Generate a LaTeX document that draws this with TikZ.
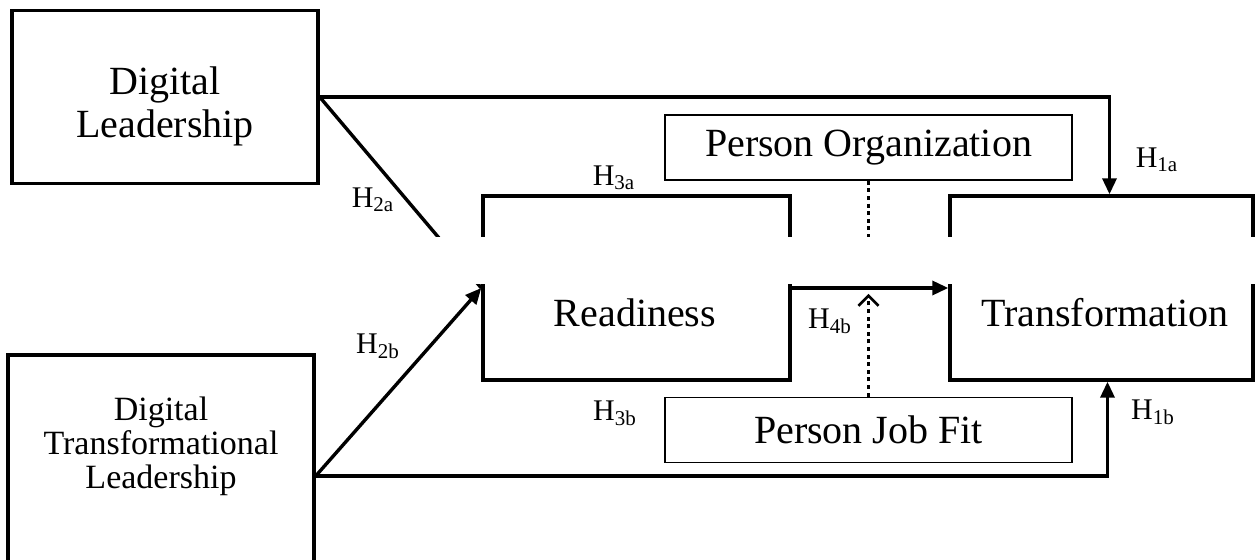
\documentclass[tikz,border=0pt]{standalone}
\usepackage{fontspec}
\setmainfont{Liberation Serif}
\usetikzlibrary{arrows.meta,positioning}
\tikzset{
  modelBox/.style={
    draw,
    line width=1.7pt,
    inner sep=0pt,
    align=center
  },
  moderatorBox/.style={
    draw,
    line width=0.9pt,
    inner sep=0pt,
    minimum width=203.5pt,
    minimum height=32.5pt,
    font=\fontsize{20}{22}\selectfont
  },
  boxText/.style={align=center, inner sep=0pt},
  pathArrow/.style={line width=1.7pt, -{Triangle[length=8pt,width=7pt]}},
  pathLine/.style={line width=1.7pt},
  moderatorLine/.style={line width=1.3pt, dash pattern=on 2pt off 1.8pt},
  moderatorArrow/.style={moderatorLine, -{Straight Barb[length=5pt,width=10pt]}},
  hypLabel/.style={font=\fontsize{15}{16}\selectfont, inner sep=0pt},
  cutBand/.style={fill=white, draw=none}
}

\begin{document}
\begin{tikzpicture}[x=0.5pt,y=-0.5pt]
  \clip (0,0) rectangle (1255,560);

  \node[modelBox, minimum width=153pt, minimum height=86.5pt]
    (dl) at (165,97) {};
  \node[boxText, font=\fontsize{20}{21.5}\selectfont]
    (dltext) at (165,106) {Digital\\Leadership};
  \node[modelBox, minimum width=153pt, minimum height=121pt]
    (dtl) at (161,476) {};
  \node[boxText, font=\fontsize{17}{17}\selectfont]
    (dtltext) at (161,446) {Digital\\Transformational\\Leadership};
  \node[modelBox, minimum width=153.5pt, minimum height=92pt]
    (rdy) at (636.5,288) {};
  \node[boxText, font=\fontsize{20}{22}\selectfont]
    (rdytext) at (635,313) {Readiness};
  \node[modelBox, minimum width=151.5pt, minimum height=92pt]
    (trf) at (1101.5,288) {};
  \node[boxText, font=\fontsize{20}{22}\selectfont]
    (trftext) at (1105,313) {Transformation};
  \node[moderatorBox] (po) at (868.5,147.5) {Person Organization};
  \node[moderatorBox] (pjf) at (868.5,430) {Person Job Fit};

  \draw[pathLine] (dl.east) -- (rdy.west);
  \draw[moderatorLine] (po.south) -- (po.south |- rdy.east);

  \fill[cutBand] (0,237) rectangle (1255,284);

  \draw[pathArrow] (dl.east) -| ([xshift=4pt]trf.north);
  \draw[pathArrow] (dtl.east) -| ([xshift=3pt]trf.south);
  \draw[pathArrow] (dtl.east) -- (rdy.west);
  \draw[pathArrow] (rdy.east) -- (trf.west);
  \draw[moderatorArrow] (pjf.north) -- ([yshift=-3pt]pjf.north |- rdy.east);

  \node[hypLabel] (h1a) at (1157,160) {H\textsubscript{1a}};
  \node[hypLabel] (h1b) at (1153,412) {H\textsubscript{1b}};
  \node[hypLabel] (h2a) at (373,200) {H\textsubscript{2a}};
  \node[hypLabel] (h2b) at (378,346) {H\textsubscript{2b}};
  \node[hypLabel] (h3a) at (614,178) {H\textsubscript{3a}};
  \node[hypLabel] (h3b) at (615,413) {H\textsubscript{3b}};
  \node[hypLabel] (h4b) at (830,321) {H\textsubscript{4b}};
\end{tikzpicture}
\end{document}
